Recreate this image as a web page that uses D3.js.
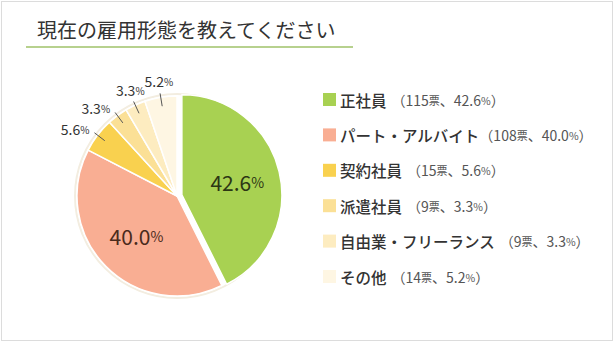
<!DOCTYPE html>
<html><head><meta charset="utf-8">
<script src="https://cdn.jsdelivr.net/npm/d3@7"></script>
<style>html,body{margin:0;padding:0;background:#fff;}svg{display:block;}</style>
</head><body>
<svg id="c" width="615" height="344"></svg>
<script>
const title = "現在の雇用形態を教えてください";
const categories = ["正社員", "パート・アルバイト", "契約社員", "派遣社員", "自由業・フリーランス", "その他"];
const votes = [115, 108, 15, 9, 9, 14];
const percents = [42.6, 40.0, 5.6, 3.3, 3.3, 5.2];
const colors = ["#a8d152", "#f9ae93", "#f9d14f", "#fbe096", "#fdecc0", "#fef6e3"];

const svg = d3.select("#c");
const font = "'Noto Sans CJK JP','Noto Sans',sans-serif";

svg.append("rect").attr("x", 1.5).attr("y", 1.5).attr("width", 611).attr("height", 339)
  .attr("fill", "#fff").attr("stroke", "#dcdcdc").attr("stroke-width", 1);

svg.append("text").attr("x", 37).attr("y", 38).text(title)
  .attr("font-family", font).attr("font-size", 20).attr("fill", "#333");
svg.append("line").attr("x1", 26).attr("x2", 353).attr("y1", 47).attr("y2", 47)
  .attr("stroke", "#b7d18e").attr("stroke-width", 2);

const cx = 177, cy = 196, R = 100;
const pie = d3.pie().value(d => d).sort(null);
const arcs = pie(percents);
const arc = d3.arc().innerRadius(0).outerRadius(R);
const g = svg.append("g").attr("transform", `translate(${cx},${cy})`);

g.append("circle").attr("r", R + 2).attr("fill", "none").attr("stroke", "#f3ede0").attr("stroke-width", 2);

g.selectAll("path.s").data(arcs).enter().append("path").attr("class", "s")
  .attr("transform", (d, i) => {
    if (i !== 0) return null;
    const m = (d.startAngle + d.endAngle) / 2;
    return `translate(${5 * Math.sin(m)},${-5 * Math.cos(m)})`;
  })
  .attr("d", arc).attr("fill", (d, i) => colors[i])
  .attr("stroke", "#fff").attr("stroke-width", 1.5).attr("stroke-linejoin", "round");

const inArc = d3.arc().innerRadius(57).outerRadius(57);
const lineIn = d3.arc().innerRadius(91).outerRadius(91);
const lineOut = d3.arc().innerRadius(104).outerRadius(104);

arcs.forEach((d, i) => {
  const big = percents[i] > 20;
  const m = (d.startAngle + d.endAngle) / 2;
  let x, y, anchor = "middle";
  if (big) {
    const p = inArc.centroid(d);
    x = p[0]; y = p[1];
    if (i === 0) { x += 5 * Math.sin(m); y -= 5 * Math.cos(m); }
  } else {
    const a = lineIn.centroid(d), b = lineOut.centroid(d);
    g.append("line").attr("x1", a[0]).attr("y1", a[1]).attr("x2", b[0]).attr("y2", b[1])
      .attr("stroke", "#555").attr("stroke-width", 1);
    if (Math.sin(m) < -0.5) { anchor = "end"; x = b[0] - 5; y = b[1] - 4; }
    else { x = b[0] + Math.sin(m) * 8; y = b[1] - 12; }
  }
  const t = g.append("text").attr("x", x).attr("y", y).attr("text-anchor", anchor)
    .attr("dominant-baseline", "central").attr("font-family", font)
    .attr("fill", i === 1 ? "#4a2a1c" : (i === 0 ? "#2c3614" : "#333"));
  t.append("tspan").attr("font-size", big ? 21 : 14).text(percents[i].toFixed(1));
  t.append("tspan").attr("font-size", big ? 14 : 10).text("%");
});

const lg = svg.append("g");
categories.forEach((c, i) => {
  const y = 99.5 + i * 35.4;
  lg.append("rect").attr("x", 323).attr("y", y - 6.5).attr("width", 13).attr("height", 13)
    .attr("fill", colors[i]);
  const t = lg.append("text").attr("x", 340).attr("y", y).attr("dominant-baseline", "central")
    .attr("font-family", font);
  t.append("tspan").attr("font-size", 15.5).attr("font-weight", 500).attr("fill", "#333").text(c);
  t.append("tspan").attr("dx", i === 1 ? 0 : 5).attr("font-size", 14).attr("fill", "#555").text("（" + votes[i]);
  t.append("tspan").attr("font-size", 11).attr("fill", "#555").text("票");
  t.append("tspan").attr("font-size", 14).attr("fill", "#555").text("、" + percents[i].toFixed(1));
  t.append("tspan").attr("font-size", 10.5).attr("fill", "#555").text("%");
  t.append("tspan").attr("font-size", 14).attr("fill", "#555").text("）");
});
</script>
</body></html>
